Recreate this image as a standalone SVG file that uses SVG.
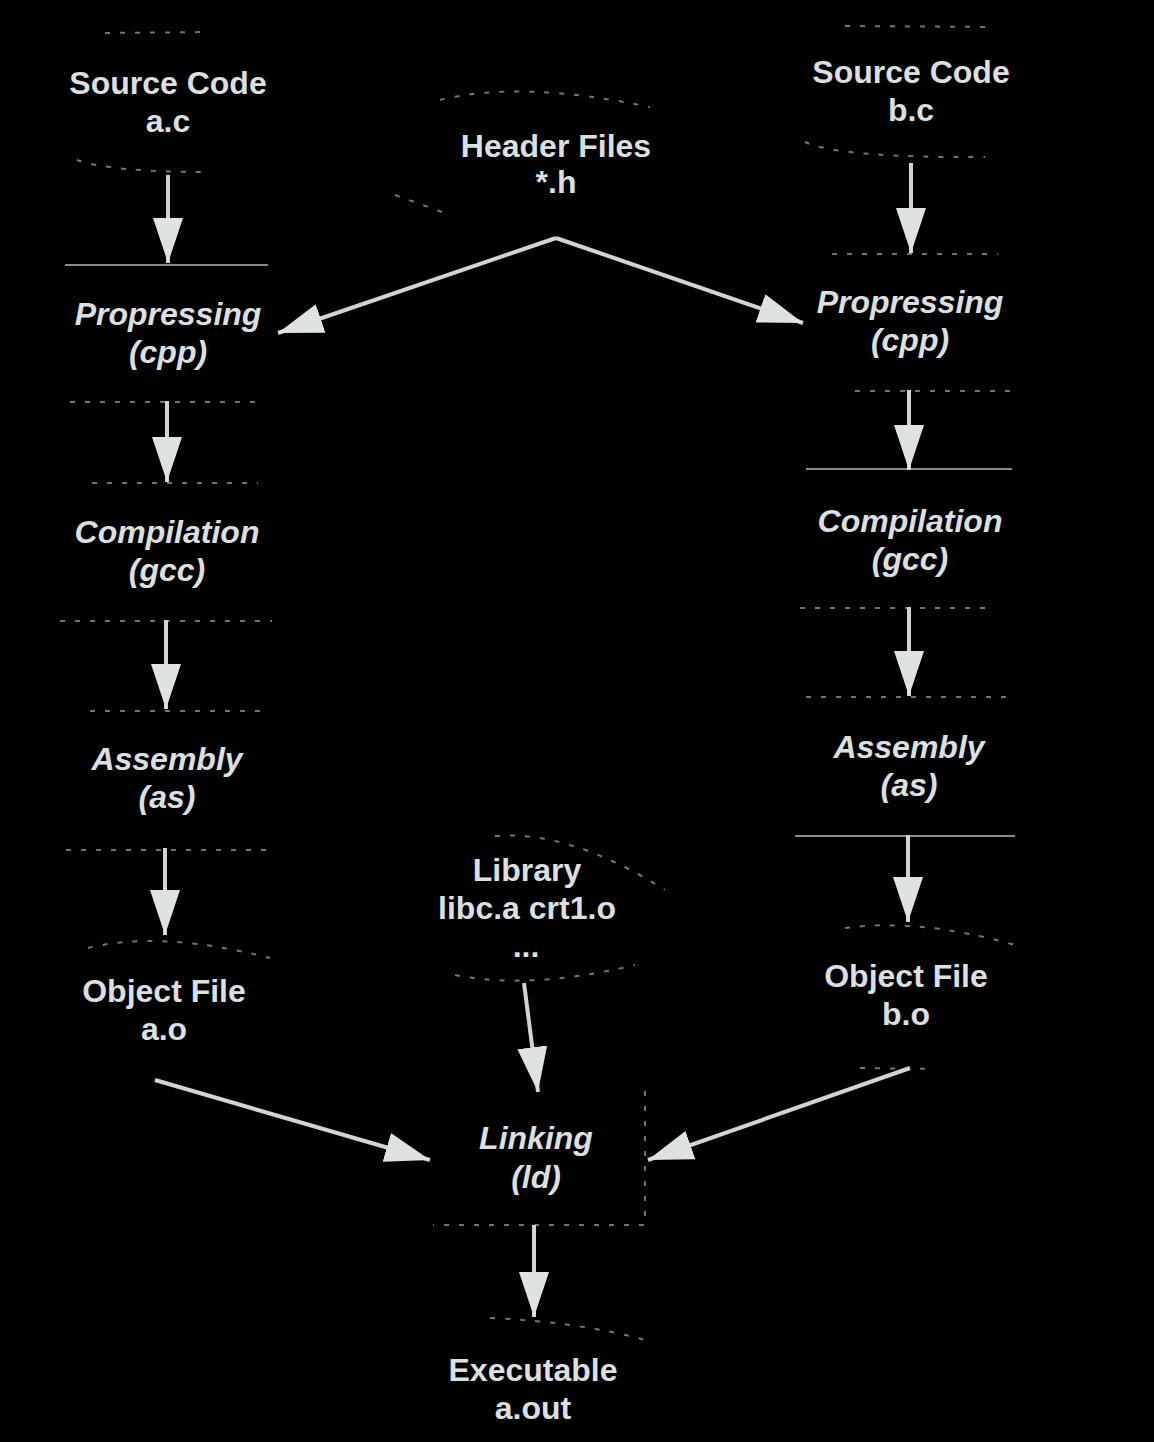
<svg xmlns="http://www.w3.org/2000/svg" width="1154" height="1442" viewBox="0 0 1154 1442">
<defs>
<style>
.t{font-family:"Liberation Sans",Arial,sans-serif;font-weight:bold;font-size:32px;fill:#dcdfdf;text-anchor:middle}
.i{font-style:italic}
.e{fill:none;stroke:#747474;stroke-width:2;stroke-dasharray:5 10}
.s{fill:none;stroke:#8a8a8a;stroke-width:2}
.c{fill:none;stroke:#d2d4d4;stroke-width:4;marker-end:url(#ah)}
</style>
<marker id="ah" markerUnits="userSpaceOnUse" viewBox="0 0 45 30" markerWidth="45" markerHeight="30" refX="45" refY="15" orient="auto">
<path d="M0,0 L45,15 L0,30 Z" fill="#dfe2e2"/>
</marker>
</defs>
<rect width="1154" height="1442" fill="#000"/>

<g id="src_a">
<path class="e" d="M105,33 L210,32"/>
<path class="e" d="M77,160 Q110,172 210,172"/>
<text class="t" x="168" y="94">Source Code</text>
<text class="t" x="168" y="132">a.c</text>
</g>

<g id="hdr">
<path class="e" d="M440,100 Q520,80 650,107"/>
<path class="e" d="M395,195 L445,213"/>
<text class="t" x="556" y="157">Header Files</text>
<text class="t" x="556" y="193">*.h</text>
</g>

<g id="src_b">
<path class="e" d="M845,26 L990,27"/>
<path class="e" d="M805,142 Q840,158 985,157"/>
<text class="t" x="911" y="83">Source Code</text>
<text class="t" x="911" y="121">b.c</text>
</g>

<g id="cpp_a">
<path class="s" d="M65,265 L268,265"/>
<text class="t i" x="168" y="325">Propressing</text>
<text class="t i" x="168" y="363">(cpp)</text>
<path class="e" d="M70,402 L255,402"/>
</g>

<g id="gcc_a">
<path class="e" d="M92,483 L258,483"/>
<text class="t i" x="167" y="543">Compilation</text>
<text class="t i" x="167" y="581">(gcc)</text>
<path class="e" d="M60,621 L272,621"/>
</g>

<g id="as_a">
<path class="e" d="M90,711 L268,711"/>
<text class="t i" x="167" y="770">Assembly</text>
<text class="t i" x="167" y="808">(as)</text>
<path class="e" d="M66,850 L268,850"/>
</g>

<g id="obj_a">
<path class="e" d="M88,948 Q160,930 270,958"/>
<text class="t" x="164" y="1002">Object File</text>
<text class="t" x="164" y="1040">a.o</text>
</g>

<g id="cpp_b">
<path class="e" d="M832,254 L998,254"/>
<text class="t i" x="910" y="313">Propressing</text>
<text class="t i" x="910" y="351">(cpp)</text>
<path class="e" d="M855,391 L1010,391"/>
</g>

<g id="gcc_b">
<path class="s" d="M806,469 L1012,469"/>
<text class="t i" x="910" y="532">Compilation</text>
<text class="t i" x="910" y="570">(gcc)</text>
<path class="e" d="M800,608 L990,608"/>
</g>

<g id="as_b">
<path class="e" d="M806,697 L1008,697"/>
<text class="t i" x="909" y="758">Assembly</text>
<text class="t i" x="909" y="796">(as)</text>
<path class="s" d="M795,836 L1015,836"/>
</g>

<g id="obj_b">
<path class="e" d="M845,928 Q920,918 1015,945"/>
<path class="e" d="M860,1068 L935,1069"/>
<text class="t" x="906" y="987">Object File</text>
<text class="t" x="906" y="1025">b.o</text>
</g>

<g id="lib">
<path class="e" d="M495,836 Q570,830 665,890"/>
<path class="e" d="M455,975 Q530,990 635,965"/>
<text class="t" x="527" y="881">Library</text>
<text class="t" x="527" y="919">libc.a crt1.o</text>
<text class="t" x="526" y="957">...</text>
</g>

<g id="link">
<path class="e" d="M645,1091 L645,1225 L433,1225"/>
<text class="t i" x="536" y="1149">Linking</text>
<text class="t i" x="536" y="1188">(ld)</text>
</g>

<g id="exe">
<path class="e" d="M490,1318 Q580,1322 645,1340"/>
<text class="t" x="533" y="1381">Executable</text>
<text class="t" x="533" y="1419">a.out</text>
</g>

<g id="connectors">
<line class="c" x1="168" y1="175" x2="168" y2="263"/>
<line class="c" x1="167" y1="401" x2="167" y2="482"/>
<line class="c" x1="166" y1="620" x2="166" y2="709"/>
<line class="c" x1="165" y1="848" x2="165" y2="935"/>
<line class="c" x1="911" y1="163" x2="911" y2="253"/>
<line class="c" x1="909" y1="390" x2="909" y2="470"/>
<line class="c" x1="909" y1="607" x2="909" y2="696"/>
<line class="c" x1="908" y1="835" x2="908" y2="922"/>
<polyline class="c" points="556,238 278,333"/>
<polyline class="c" points="556,238 803,323"/>
<line class="c" x1="524" y1="983" x2="538" y2="1092"/>
<line class="c" x1="155" y1="1080" x2="430" y2="1160"/>
<line class="c" x1="910" y1="1068" x2="648" y2="1160"/>
<line class="c" x1="534" y1="1225" x2="534" y2="1317"/>
</g>
</svg>
